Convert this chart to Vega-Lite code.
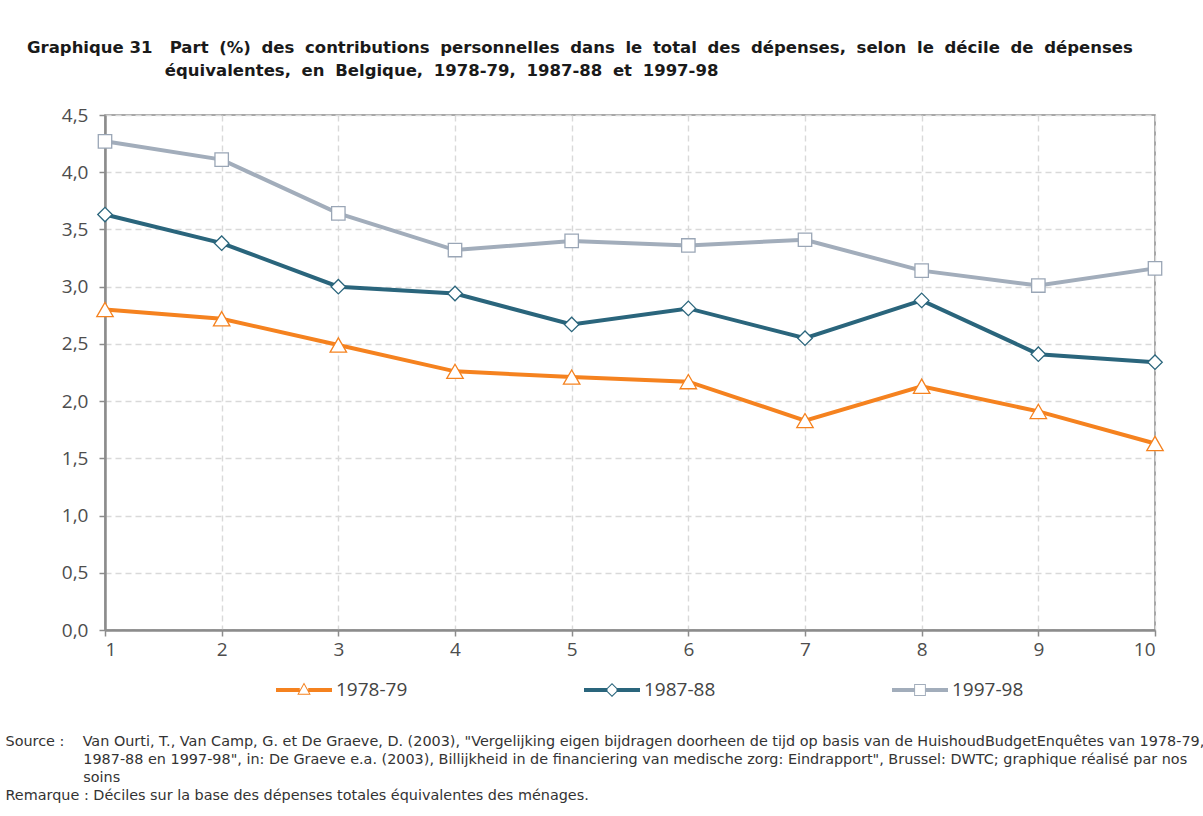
{
  "$schema": "https://vega.github.io/schema/vega-lite/v6.json",
  "width": 1050,
  "height": 515,
  "autosize": {"type": "none"},
  "padding": {"left": 105, "top": 115, "right": 48, "bottom": 186},
  "background": "white",
  "title": {
    "text": [
      "Graphique 31\u00a0\u00a0 Part\u2009\u200a (%)\u2009\u200a des\u2009\u200a contributions\u2009\u200a personnelles\u2009\u200a dans\u2009\u200a le\u2009\u200a total\u2009\u200a des\u2009\u200a dépenses,\u2009\u200a selon\u2009\u200a le\u2009\u200a décile\u2009\u200a de\u2009\u200a dépenses",
      "\u200b\u00a0\u00a0\u00a0\u00a0\u00a0\u00a0\u00a0\u00a0\u00a0\u00a0\u00a0\u00a0\u00a0\u00a0\u00a0\u00a0\u00a0\u00a0\u00a0\u00a0\u00a0\u00a0\u00a0\u00a0équivalentes,\u2009\u200a en\u2009\u200a Belgique,\u2009\u200a 1978-79,\u2009\u200a 1987-88\u2009\u200a et\u2009\u200a 1997-98"
    ],
    "anchor": "start",
    "frame": "group",
    "dx": -78,
    "offset": 27,
    "font": "DejaVu Sans",
    "fontSize": 16.5,
    "fontWeight": "bold",
    "color": "#1a1a1a",
    "lineHeight": 23,
    "limit": 2000
  },
  "data": {
    "values": [
      {"decile": 1, "series": "1978-79", "value": 2.80},
      {"decile": 2, "series": "1978-79", "value": 2.72},
      {"decile": 3, "series": "1978-79", "value": 2.49},
      {"decile": 4, "series": "1978-79", "value": 2.26},
      {"decile": 5, "series": "1978-79", "value": 2.21},
      {"decile": 6, "series": "1978-79", "value": 2.17},
      {"decile": 7, "series": "1978-79", "value": 1.83},
      {"decile": 8, "series": "1978-79", "value": 2.13},
      {"decile": 9, "series": "1978-79", "value": 1.91},
      {"decile": 10, "series": "1978-79", "value": 1.63},
      {"decile": 1, "series": "1987-88", "value": 3.63},
      {"decile": 2, "series": "1987-88", "value": 3.38},
      {"decile": 3, "series": "1987-88", "value": 3.00},
      {"decile": 4, "series": "1987-88", "value": 2.94},
      {"decile": 5, "series": "1987-88", "value": 2.67},
      {"decile": 6, "series": "1987-88", "value": 2.81},
      {"decile": 7, "series": "1987-88", "value": 2.55},
      {"decile": 8, "series": "1987-88", "value": 2.88},
      {"decile": 9, "series": "1987-88", "value": 2.41},
      {"decile": 10, "series": "1987-88", "value": 2.34},
      {"decile": 1, "series": "1997-98", "value": 4.27},
      {"decile": 2, "series": "1997-98", "value": 4.11},
      {"decile": 3, "series": "1997-98", "value": 3.64},
      {"decile": 4, "series": "1997-98", "value": 3.32},
      {"decile": 5, "series": "1997-98", "value": 3.40},
      {"decile": 6, "series": "1997-98", "value": 3.36},
      {"decile": 7, "series": "1997-98", "value": 3.41},
      {"decile": 8, "series": "1997-98", "value": 3.14},
      {"decile": 9, "series": "1997-98", "value": 3.01},
      {"decile": 10, "series": "1997-98", "value": 3.16}
    ]
  },
  "encoding": {
    "x": {
      "field": "decile",
      "type": "quantitative",
      "scale": {"domain": [1, 10], "nice": false, "zero": false},
      "axis": {
        "values": [1, 2, 3, 4, 5, 6, 7, 8, 9, 10],
        "format": "d",
        "labelPadding": 4,
        "title": [
          "Source :\u00a0\u00a0\u00a0\u00a0Van Ourti, T., Van Camp, G. et De Graeve, D. (2003), \"Vergelijking eigen bijdragen doorheen de tijd op basis van de HuishoudBudgetEnquêtes van 1978-79,",
          "\u200b\u00a0\u00a0\u00a0\u00a0\u00a0\u00a0\u00a0\u00a0\u00a0\u00a0\u00a0\u00a0\u00a0\u00a0\u00a0\u00a0\u00a01987-88 en 1997-98\", in: De Graeve e.a. (2003), Billijkheid in de financiering van medische zorg: Eindrapport\", Brussel: DWTC; graphique réalisé par nos",
          "\u200b\u00a0\u00a0\u00a0\u00a0\u00a0\u00a0\u00a0\u00a0\u00a0\u00a0\u00a0\u00a0\u00a0\u00a0\u00a0\u00a0\u00a0soins",
          "Remarque : Déciles sur la base des dépenses totales équivalentes des ménages."
        ],
        "titleAnchor": "start",
        "titleAlign": "left",
        "titleBaseline": "alphabetic",
        "titleX": -100,
        "titleY": 115,
        "titleFont": "DejaVu Sans",
        "titleFontSize": 14.4,
        "titleFontWeight": "normal",
        "titleColor": "#333333",
        "titleLineHeight": 18,
        "titleLimit": 2000
      }
    },
    "y": {
      "field": "value",
      "type": "quantitative",
      "scale": {"domain": [0, 4.5], "nice": false},
      "axis": {
        "values": [0, 0.5, 1, 1.5, 2, 2.5, 3, 3.5, 4, 4.5],
        "labelExpr": "replace(format(datum.value, '.1f'), '.', ',')",
        "title": null,
        "labelPadding": 11
      }
    }
  },
  "layer": [
    {
      "mark": {"type": "line", "strokeWidth": 4},
      "encoding": {
        "color": {
          "field": "series",
          "type": "nominal",
          "scale": {"domain": ["1978-79", "1987-88", "1997-98"], "range": ["#f5821f", "#2a657c", "#a2adbb"]},
          "legend": {
            "orient": "none",
            "legendX": 171,
            "legendY": 547,
            "direction": "horizontal",
            "columns": 3,
            "title": null,
            "padding": 0,
            "columnPadding": 176,
            "symbolSize": 3136,
            "labelOffset": 4,
            "labelFont": "Open Sans",
            "labelFontSize": 19,
            "labelColor": "#444444",
            "labelLimit": 300,
            "encode": {
              "symbols": {
                "update": {
                  "shape": {"signal": "datum.value === '1978-79' ? 'M-1,-0.07H-0.15V0.07H-1Z M0.15,-0.07H1V0.07H0.15Z M0,-0.27L0.24,0.17H-0.24Z M0,-0.197L-0.181,0.135H0.181Z' : datum.value === '1987-88' ? 'M-1,-0.07H-0.16V0.07H-1Z M0.16,-0.07H1V0.07H0.16Z M0,-0.25L0.25,0L0,0.25L-0.25,0Z M0,-0.2L-0.2,0L0,0.2L0.2,0Z' : 'M-1,-0.07H-0.19V0.07H-1Z M0.19,-0.07H1V0.07H0.19Z M-0.21,-0.21H0.21V0.21H-0.21Z M-0.175,-0.175V0.175H0.175V-0.175Z'"},
                  "fill": {"scale": "color", "field": "value"},
                  "fillOpacity": {"value": 1},
                  "stroke": {"value": "transparent"},
                  "strokeWidth": {"value": 0},
                  "opacity": {"value": 1}
                }
              }
            }
          }
        }
      }
    },
    {
      "transform": [{"filter": "datum.series === '1978-79'"}],
      "mark": {"type": "point", "shape": "triangle-up", "size": 270, "filled": true, "fill": "white", "stroke": "#f5821f", "strokeWidth": 1.3, "opacity": 1}
    },
    {
      "transform": [{"filter": "datum.series === '1987-88'"}],
      "mark": {"type": "point", "shape": "diamond", "size": 210, "filled": true, "fill": "white", "stroke": "#2a657c", "strokeWidth": 1.3, "opacity": 1}
    },
    {
      "transform": [{"filter": "datum.series === '1997-98'"}],
      "mark": {"type": "point", "shape": "square", "size": 180, "filled": true, "fill": "white", "stroke": "#9aa6b6", "strokeWidth": 1.3, "opacity": 1}
    }
  ],
  "config": {
    "view": {"stroke": "#8c8c8c", "strokeWidth": 1.5},
    "axis": {
      "grid": true,
      "gridColor": "#d9d9d9",
      "gridDash": [6, 4],
      "gridWidth": 1.4,
      "domainColor": "#8c8c8c",
      "domainWidth": 2.5,
      "tickColor": "#8c8c8c",
      "tickSize": 6,
      "tickWidth": 1.5,
      "labelFont": "Open Sans",
      "labelFontSize": 19,
      "labelColor": "#4d4d4d"
    }
  }
}
